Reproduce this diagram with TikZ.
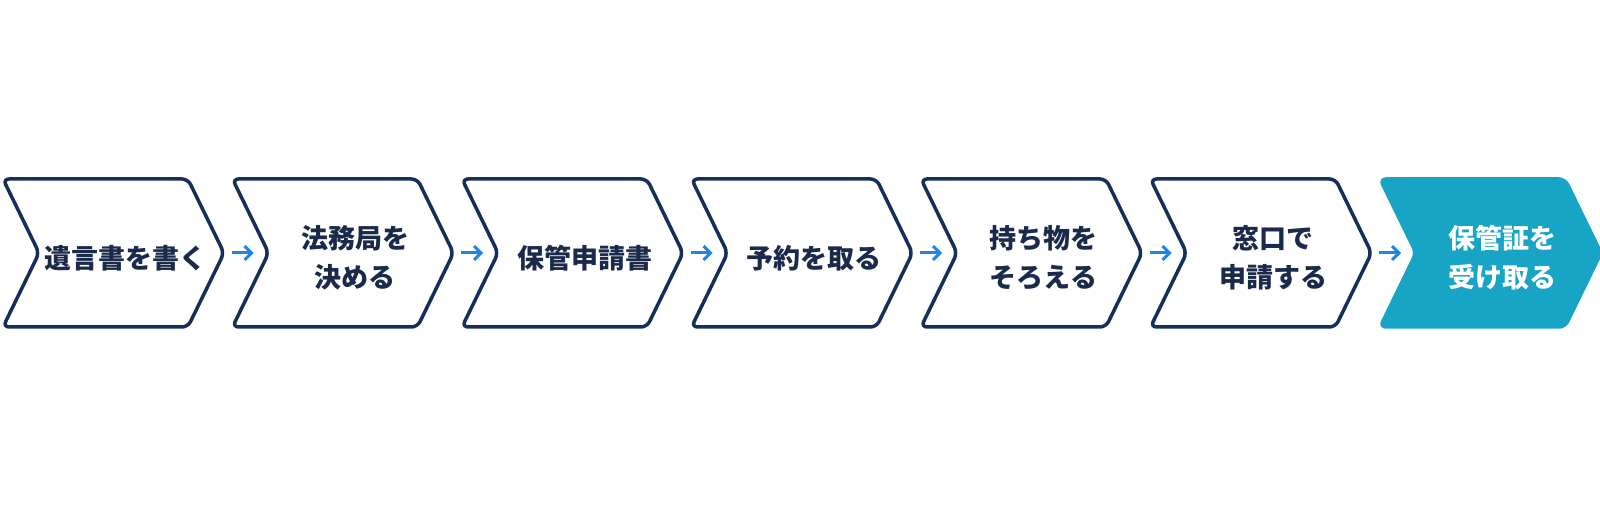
\documentclass[tikz,border=0pt]{standalone}
\usepackage{fontspec}
\newfontfamily\jpfont{Noto Sans CJK JP}
\usetikzlibrary{arrows.meta,shapes.symbols,positioning}
\definecolor{navy}{HTML}{14305A}
\definecolor{inknavy}{HTML}{1B2A4A}
\definecolor{tealstep}{HTML}{18A5C5}
\definecolor{arrowblue}{HTML}{1E86E3}

\begin{document}
\begin{tikzpicture}[x=1pt,y=1pt]
\tikzset{
  chev/.style={signal, signal from=west, signal to=east, signal pointer angle=128,
    minimum width=221pt, minimum height=148pt, inner sep=0pt,
    rounded corners=6pt, line width=3.5pt, draw=navy, fill=white},
  lastchev/.style={chev, draw=tealstep, fill=tealstep},
  steptext/.style={font=\jpfont\bfseries\fontsize{27}{39}\selectfont,
    text=inknavy, align=center, inner sep=0pt},
  link/.style={arrowblue, line width=3pt, -{Straight Barb[length=7pt,width=14pt]},
    shorten <=6pt, shorten >=13pt}
}
\fill[white] (0,0) rectangle (1600,509);
\useasboundingbox (0,0) rectangle (1600,509);

% steps
\node[chev] (s1) at (113.5,256) {};
\node[chev] (s2) at (343,256) {};
\node[chev] (s3) at (572.5,256) {};
\node[chev] (s4) at (802,256) {};
\node[chev] (s5) at (1031.5,256) {};
\node[chev] (s6) at (1261,256) {};
\node[lastchev] (s7) at (1490.5,256) {};

% labels
\node[steptext] (t1) at ([xshift=12pt,yshift=-5pt]s1.center) {遺言書を書く};
\node[steptext] (t2) at ([xshift=12pt,yshift=-5pt]s2.center) {法務局を\\決める};
\node[steptext] (t3) at ([xshift=12pt,yshift=-5pt]s3.center) {保管申請書};
\node[steptext] (t4) at ([xshift=12pt,yshift=-5pt]s4.center) {予約を取る};
\node[steptext] (t5) at ([xshift=12pt,yshift=-5pt]s5.center) {持ち物を\\そろえる};
\node[steptext] (t6) at ([xshift=12pt,yshift=-5pt]s6.center) {窓口で\\申請する};
\node[steptext, text=white] (t7) at ([xshift=12pt,yshift=-5pt]s7.center) {保管証を\\受け取る};

\foreach \a/\b in {s1/s2,s2/s3,s3/s4,s4/s5,s5/s6,s6/s7}
  \draw[link] (\a.east) -- (\b.west);
\end{tikzpicture}
\end{document}
